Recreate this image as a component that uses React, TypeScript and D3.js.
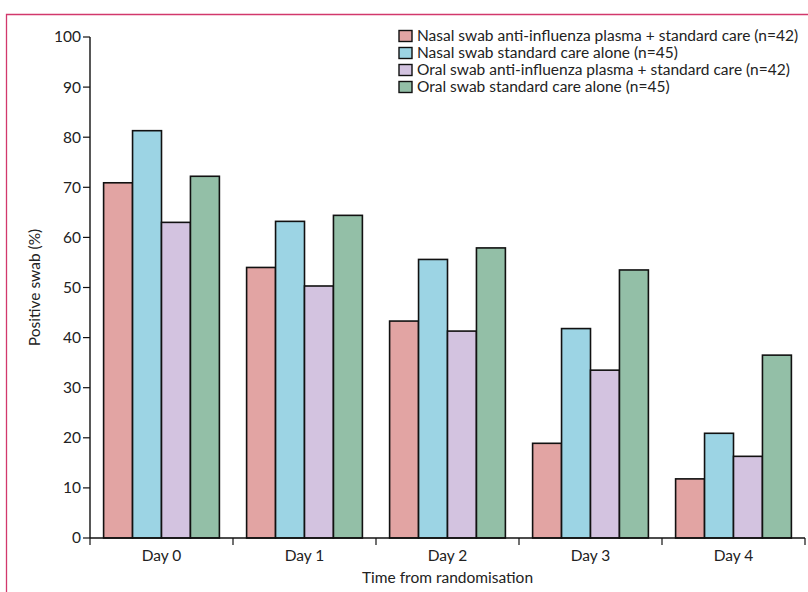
import React from "react";
import * as d3 from "d3";

const days = ["Day 0", "Day 1", "Day 2", "Day 3", "Day 4"];
const seriesNames = [
  "Nasal swab anti-influenza plasma + standard care (n=42)",
  "Nasal swab standard care alone (n=45)",
  "Oral swab anti-influenza plasma + standard care (n=42)",
  "Oral swab standard care alone (n=45)",
];
const nasalPlasma = [70.9, 54.0, 43.3, 18.9, 11.8];
const nasalStandard = [81.3, 63.2, 55.6, 41.8, 20.9];
const oralPlasma = [63.0, 50.3, 41.3, 33.5, 16.3];
const oralStandard = [72.2, 64.4, 57.9, 53.5, 36.5];
const seriesValues = [nasalPlasma, nasalStandard, oralPlasma, oralStandard];
const colors = ["#e2a4a3", "#9cd4e4", "#d3c3e0", "#93bfa7"];
const yTicks = [0, 10, 20, 30, 40, 50, 60, 70, 80, 90, 100];

const W = 808;
const H = 592;
const FONT = "Lato, 'Open Sans', sans-serif";
const FS = 15.5;

export default function App() {
  const left = 90;
  const right = 805;
  const top = 37;
  const bottom = 538;
  const x = d3.scaleBand<string>().domain(days).range([left, right]).padding(0);
  const inner = d3
    .scaleBand<number>()
    .domain([0, 1, 2, 3])
    .range([0, x.bandwidth()])
    .paddingInner(0)
    .paddingOuter(0.47);
  const y = d3.scaleLinear().domain([0, 100]).range([bottom, top]);
  const boundaries = [...days.map((d) => x(d) as number), right];

  return (
    <svg
      width={W}
      height={H}
      style={{ position: "absolute", left: 0, top: 0, background: "#fff" }}
      fontFamily={FONT}
    >
      <rect x={0} y={0} width={W} height={H} fill="#fff" />
      {/* frame */}
      <path d={`M6.5,${H}V14.5H${W}`} fill="none" stroke="#d2386c" strokeWidth={1.3} />

      {/* bars */}
      {days.map((d, i) => (
        <g key={d}>
          {seriesValues.map((vals, s) => (
            <rect
              key={s}
              x={(x(d) as number) + (inner(s) as number)}
              y={y(vals[i])}
              width={inner.bandwidth()}
              height={bottom - y(vals[i])}
              fill={colors[s]}
              stroke="#111"
              strokeWidth={1.6}
            />
          ))}
        </g>
      ))}

      {/* y axis */}
      <line x1={left} x2={left} y1={top} y2={bottom} stroke="#111" strokeWidth={1.4} />
      {yTicks.map((t) => (
        <g key={t}>
          <line x1={left - 7} x2={left} y1={y(t)} y2={y(t)} stroke="#111" strokeWidth={1.2} />
          <text x={left - 9} y={y(t)} dy="0.35em" textAnchor="end" fontSize={FS} fill="#222">
            {t}
          </text>
        </g>
      ))}

      {/* x axis */}
      <line x1={left} x2={right} y1={bottom} y2={bottom} stroke="#111" strokeWidth={1.4} />
      {boundaries.map((b, i) => (
        <line key={i} x1={b} x2={b} y1={bottom} y2={bottom + 7} stroke="#111" strokeWidth={1.2} />
      ))}
      {days.map((d) => (
        <text
          key={d}
          x={(x(d) as number) + x.bandwidth() / 2}
          y={556}
          dy="0.35em"
          textAnchor="middle"
          fontSize={FS}
          fill="#222"
        >
          {d}
        </text>
      ))}
      <text x={(left + right) / 2} y={578} dy="0.35em" textAnchor="middle" fontSize={FS} fill="#222">
        Time from randomisation
      </text>
      <text
        transform={`translate(35,${(top + bottom) / 2}) rotate(-90)`}
        textAnchor="middle"
        dy="0.35em"
        fontSize={FS}
        fill="#222"
      >
        Positive swab (%)
      </text>

      {/* legend */}
      {seriesNames.map((n, s) => (
        <g key={n} transform={`translate(399,${36 + s * 17})`}>
          <rect x={0} y={-5.5} width={13} height={11} fill={colors[s]} stroke="#111" strokeWidth={1.4} />
          <text x={18} y={0} dy="0.35em" fontSize={FS} fill="#222">
            {n}
          </text>
        </g>
      ))}
    </svg>
  );
}
